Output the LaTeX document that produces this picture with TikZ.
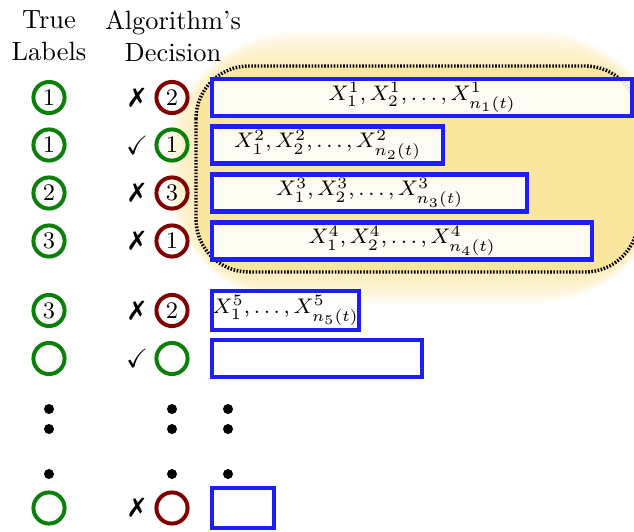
\documentclass[tikz,border=0pt]{standalone}
\usepackage{amssymb}
\usepackage{pifont}
\usetikzlibrary{positioning}

\definecolor{truegreen}{RGB}{10,128,10}
\definecolor{wrongred}{RGB}{128,0,0}
\definecolor{boxblue}{RGB}{30,30,250}
\definecolor{glowy}{RGB}{251,230,160}
\newcommand{\pxu}{0.3788pt}

\tikzset{
  lab/.style={circle, draw=truegreen, line width=1.5pt, minimum size=11.8pt, inner sep=0pt, font=\small},
  badlab/.style={lab, draw=wrongred},
  armbox/.style={draw=boxblue, line width=1.7pt, fill=white, fill opacity=0.88, text opacity=1,
    anchor=west, minimum height=37*\pxu, inner sep=0pt, font=\footnotesize},
  bigdot/.style={circle, fill=black, minimum size=3.8pt, inner sep=0pt},
}

\begin{document}
\begin{tikzpicture}[x=\pxu, y=-\pxu]
\useasboundingbox (0,0) rectangle (634,531);
\clip (0,0) rectangle (634,531);

% glow behind the first four arms
\foreach \g in {1,...,16}
  \fill[glowy, opacity=0.07, rounded corners=20+2*\g]
    (196-2*\g,66-2.2*\g) rectangle (638+2*\g,272+2*\g);
\fill[glowy, rounded corners=20] (196,66) rectangle (638,272);
\draw[line width=1.3pt, dash pattern=on 0.6pt off 0.6pt, rounded corners=20]
  (196,66) rectangle (638,272);

% headers
\node[align=center] (truehead) at (49,36) {True\\Labels};
\node[align=center] (algohead) at (173,36) {Algorithm's\\Decision};

% true labels
\node[lab] (t1) at (49,97.5) {1};
\node[lab] (t2) at (49,145) {1};
\node[lab] (t3) at (49,193) {2};
\node[lab] (t4) at (49,241) {3};
\node[lab] (t5) at (49,310.5) {3};
\node[lab] (t6) at (49,358.5) {};
\node[lab] (t7) at (49,508) {};

% decisions
\node (m1) at (137,97.5) {\ding{55}};
\node (m2) at (137,145) {$\checkmark$};
\node (m3) at (137,193) {\ding{55}};
\node (m4) at (137,241) {\ding{55}};
\node (m5) at (137,310.5) {\ding{55}};
\node (m6) at (137,358.5) {$\checkmark$};
\node (m7) at (137,508) {\ding{55}};

\node[badlab] (a1) at (172,97.5) {2};
\node[lab] (a2) at (172,145) {1};
\node[badlab] (a3) at (172,193) {3};
\node[badlab] (a4) at (172,241) {1};
\node[badlab] (a5) at (172,310.5) {2};
\node[lab] (a6) at (172,358.5) {};
\node[badlab] (a7) at (172,508) {};

% samples of each arm
\node[armbox, minimum width=420*\pxu] (s1) at (210,97.5) {$X^1_1, X^1_2, \ldots, X^1_{n_1(t)}$};
\node[armbox, minimum width=231*\pxu] (s2) at (210,145) {$X^2_1, X^2_2, \ldots, X^2_{n_2(t)}$};
\node[armbox, minimum width=315*\pxu] (s3) at (210,193) {$X^3_1, X^3_2, \ldots, X^3_{n_3(t)}$};
\node[armbox, minimum width=380*\pxu] (s4) at (210,241) {$X^4_1, X^4_2, \ldots, X^4_{n_4(t)}$};
\node[armbox, minimum width=147*\pxu, minimum height=39*\pxu] (s5) at (210,310.5) {$X^5_1, \ldots, X^5_{n_5(t)}$};
\node[armbox, minimum width=210*\pxu] (s6) at (210,358.5) {};
\node[armbox, minimum width=62*\pxu, minimum height=40*\pxu] (s7) at (210,508) {};

% vertical dots
\node[bigdot] (d1a) at (49,409) {};
\node[bigdot] (d1b) at (49,429) {};
\node[bigdot] (d1c) at (49,474) {};
\node[bigdot] (d2a) at (172,409) {};
\node[bigdot] (d2b) at (172,429) {};
\node[bigdot] (d2c) at (172,474) {};
\node[bigdot] (d3a) at (228,409) {};
\node[bigdot] (d3b) at (228,429) {};
\node[bigdot] (d3c) at (228,474) {};
\end{tikzpicture}
\end{document}
